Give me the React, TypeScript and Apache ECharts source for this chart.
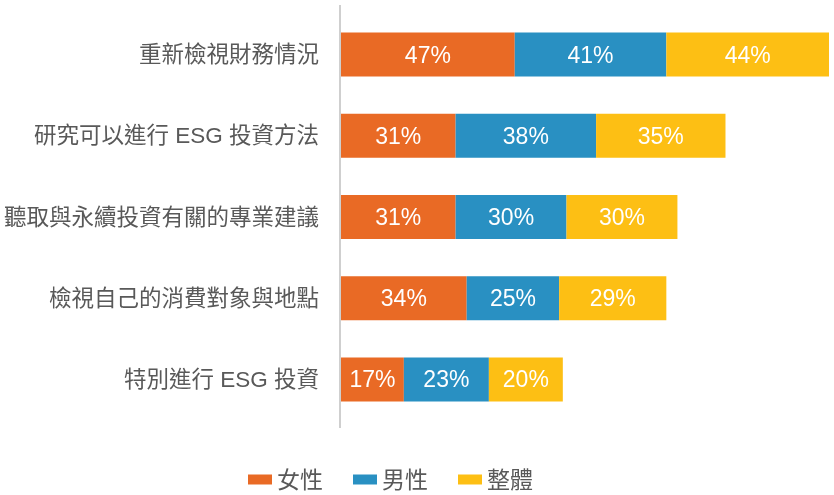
import React, { useEffect, useRef } from "react";
import * as echarts from "echarts";

const categories = [
  "重新檢視財務情況",
  "研究可以進行 ESG 投資方法",
  "聽取與永續投資有關的專業建議",
  "檢視自己的消費對象與地點",
  "特別進行 ESG 投資",
];
const female = [47, 31, 31, 34, 17];
const male = [41, 38, 30, 25, 23];
const overall = [44, 35, 30, 29, 20];
const seriesNames = ["女性", "男性", "整體"];
const colors = ["#E96A25", "#2990C2", "#FDBF14"];

const FONT = "'Liberation Sans', Arial, 'Noto Sans CJK TC', sans-serif";

export default function App() {
  const ref = useRef<HTMLDivElement>(null);
  useEffect(() => {
    if (!ref.current) return;
    const chart = echarts.init(ref.current, null, { renderer: "svg" });
    const mk = (name: string, data: number[], color: string) => ({
      name,
      type: "bar",
      stack: "total",
      data,
      barWidth: 44,
      itemStyle: { color },
      label: {
        show: true,
        position: "inside",
        formatter: "{c}%",
        color: "#ffffff",
        fontSize: 23,
        fontFamily: FONT,
      },
    });
    chart.setOption({
      animation: false,
      textStyle: { fontFamily: FONT },
      grid: { left: 341, right: 5, top: 14, height: 406, containLabel: false },
      xAxis: {
        type: "value",
        min: 0,
        max: 132,
        show: false,
      },
      yAxis: {
        type: "category",
        data: categories,
        inverse: true,
        axisLine: { show: false },
        axisTick: { show: false },
        axisLabel: {
          color: "#595959",
          fontSize: 22.5,
          margin: 22,
          fontFamily: FONT,
        },
      },
      legend: {
        bottom: 4,
        padding: 0,
        left: 248,
        itemWidth: 24,
        itemHeight: 10,
        itemGap: 30,
        icon: "rect",
        textStyle: { color: "#595959", fontSize: 23, fontFamily: FONT },
        data: seriesNames,
      },
      graphic: [
        {
          type: "line",
          shape: { x1: 340, y1: 5, x2: 340, y2: 428 },
          style: { stroke: "#BFBFBF", lineWidth: 1.5 },
        },
      ],
      series: [
        mk(seriesNames[0], female, colors[0]),
        mk(seriesNames[1], male, colors[1]),
        mk(seriesNames[2], overall, colors[2]),
      ],
    });
    return () => chart.dispose();
  }, []);
  return (
    <div
      ref={ref}
      style={{ position: "fixed", left: 0, top: 0, width: 834, height: 495 }}
    />
  );
}
